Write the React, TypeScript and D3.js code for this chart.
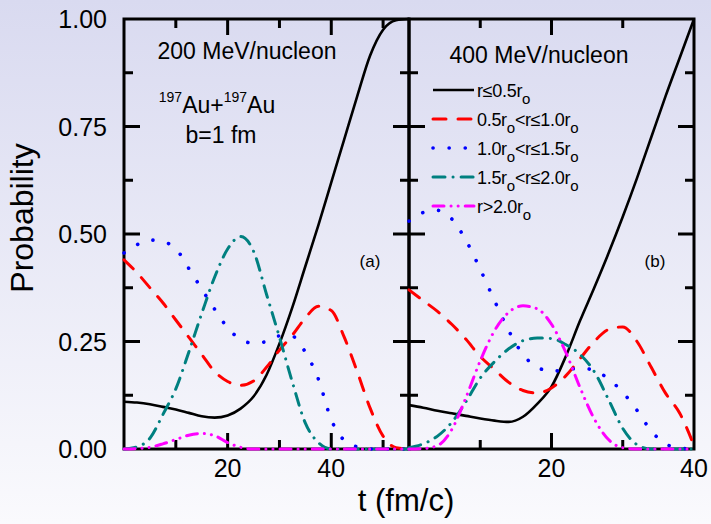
import React, { useRef, useEffect } from "react";
import * as d3 from "d3";

const width = 711;
const height = 524;

// panel (a): 200 MeV/nucleon
const time200 = [0, 2.5, 5, 7.5, 10, 12.5, 15, 17.5, 20, 22.5, 25, 27.5, 30, 32.5, 35, 37.5, 40, 42.5, 45, 47.5, 50, 52.5, 55];
const ring1_200 = [0.11, 0.108, 0.104, 0.098, 0.092, 0.084, 0.076, 0.073, 0.078, 0.094, 0.122, 0.172, 0.245, 0.33, 0.425, 0.52, 0.62, 0.72, 0.82, 0.915, 0.975, 0.997, 1.0];
const ring2_200 = [0.44, 0.41, 0.375, 0.34, 0.3, 0.26, 0.22, 0.18, 0.157, 0.148, 0.158, 0.19, 0.23, 0.265, 0.305, 0.332, 0.322, 0.26, 0.18, 0.095, 0.03, 0.003, 0];
const ring3_200 = [0.456, 0.475, 0.486, 0.482, 0.466, 0.42, 0.372, 0.325, 0.282, 0.255, 0.246, 0.25, 0.263, 0.262, 0.225, 0.163, 0.068, 0.02, 0.005, 0, 0, 0, 0];
const ring4_200 = [0, 0.005, 0.025, 0.08, 0.14, 0.225, 0.315, 0.4, 0.465, 0.494, 0.46, 0.36, 0.26, 0.155, 0.06, 0.015, 0, 0, 0, 0, 0, 0, 0];
const ring5_200 = [0, 0.001, 0.004, 0.012, 0.022, 0.032, 0.036, 0.031, 0.015, 0.004, 0, 0, 0, 0, 0, 0, 0, 0, 0, 0, 0, 0, 0];

// panel (b): 400 MeV/nucleon
const time400 = [0, 2, 4, 6, 8, 10, 12, 14, 16, 18, 20, 22, 24, 26, 28, 30, 32, 34, 36, 38, 40];
const ring1_400 = [0.102, 0.096, 0.089, 0.083, 0.077, 0.071, 0.066, 0.063, 0.075, 0.105, 0.145, 0.215, 0.298, 0.375, 0.455, 0.54, 0.63, 0.725, 0.82, 0.91, 1.0];
const ring2_400 = [0.37, 0.345, 0.32, 0.29, 0.255, 0.215, 0.185, 0.155, 0.136, 0.13, 0.142, 0.17, 0.21, 0.25, 0.278, 0.284, 0.25, 0.19, 0.13, 0.083, 0.008];
const ring3_400 = [0.53, 0.55, 0.555, 0.535, 0.485, 0.418, 0.345, 0.275, 0.22, 0.19, 0.181, 0.184, 0.188, 0.183, 0.163, 0.132, 0.09, 0.042, 0.012, 0.002, 0];
const ring4_400 = [0.003, 0.012, 0.03, 0.062, 0.11, 0.165, 0.203, 0.233, 0.252, 0.258, 0.257, 0.243, 0.22, 0.18, 0.115, 0.048, 0.01, 0, 0, 0, 0];
const ring5_400 = [0, 0.001, 0.008, 0.045, 0.12, 0.205, 0.275, 0.318, 0.333, 0.326, 0.29, 0.225, 0.143, 0.07, 0.022, 0.003, 0, 0, 0, 0, 0];

const yTicks = [0, 0.25, 0.5, 0.75, 1.0];
const yMinor = [0.125, 0.375, 0.625, 0.875];

// legend labels: [text, subscript, text, subscript ...]
const legendLabels = [
  ["r≤0.5r", "o"],
  ["0.5r", "o", "<r≤1.0r", "o"],
  ["1.0r", "o", "<r≤1.5r", "o"],
  ["1.5r", "o", "<r≤2.0r", "o"],
  ["r>2.0r", "o"],
];

const styles = [
  { color: "#000000", dash: null, w: 2.6 },
  { color: "#ff0000", dash: "13 12", w: 3 },
  { color: "#0000ff", dash: "0.1 16", w: 3.6 },
  { color: "#008080", dash: "12 8 0.1 8", w: 3 },
  { color: "#ff00ff", dash: "11 7 0.1 7 0.1 7", w: 3 },
];

const font = "'Liberation Sans', Arial, sans-serif";

const App = () => {
  const ref = useRef(null);

  useEffect(() => {
    const el = ref.current;
    d3.select(el).select("svg").remove();
    const svg = d3
      .select(el)
      .append("svg")
      .attr("width", width)
      .attr("height", height)
      .style("position", "absolute")
      .style("left", 0)
      .style("top", 0)
      .style("font-family", font);

    const grad = svg
      .append("defs")
      .append("linearGradient")
      .attr("id", "bg")
      .attr("x1", 0)
      .attr("y1", 0)
      .attr("x2", 0)
      .attr("y2", 1);
    grad.append("stop").attr("offset", "0%").attr("stop-color", "#d9daf0");
    grad.append("stop").attr("offset", "100%").attr("stop-color", "#fafafd");
    svg.append("rect").attr("width", width).attr("height", height).attr("fill", "url(#bg)");

    const y = d3.scaleLinear().domain([0, 1]).range([449, 19]);
    const panels = [
      {
        x: d3.scaleLinear().domain([0, 55]).range([124, 409]),
        t: time200,
        series: [ring1_200, ring2_200, ring3_200, ring4_200, ring5_200],
        major: [20, 40],
        minor: [10, 30, 50],
      },
      {
        x: d3.scaleLinear().domain([0, 40]).range([409, 694]),
        t: time400,
        series: [ring1_400, ring2_400, ring3_400, ring4_400, ring5_400],
        major: [20],
        minor: [10, 30],
      },
    ];

    const axes = svg.append("g").attr("stroke", "#000").attr("stroke-width", 3);
    panels.forEach((p) => {
      const [x0, x1] = p.x.range();
      axes.append("rect").attr("x", x0).attr("y", y(1)).attr("width", x1 - x0).attr("height", y(0) - y(1)).attr("fill", "none");
      p.major.forEach((v) => {
        axes.append("line").attr("x1", p.x(v)).attr("x2", p.x(v)).attr("y1", y(0)).attr("y2", y(0) - 16);
        axes.append("line").attr("x1", p.x(v)).attr("x2", p.x(v)).attr("y1", y(1)).attr("y2", y(1) + 16);
      });
      p.minor.forEach((v) => {
        axes.append("line").attr("x1", p.x(v)).attr("x2", p.x(v)).attr("y1", y(0)).attr("y2", y(0) - 9);
        axes.append("line").attr("x1", p.x(v)).attr("x2", p.x(v)).attr("y1", y(1)).attr("y2", y(1) + 9);
      });
      yTicks.slice(1, -1).forEach((v) => {
        axes.append("line").attr("x1", x0).attr("x2", x0 + 16).attr("y1", y(v)).attr("y2", y(v));
        axes.append("line").attr("x1", x1).attr("x2", x1 - 16).attr("y1", y(v)).attr("y2", y(v));
      });
      yMinor.forEach((v) => {
        axes.append("line").attr("x1", x0).attr("x2", x0 + 9).attr("y1", y(v)).attr("y2", y(v));
        axes.append("line").attr("x1", x1).attr("x2", x1 - 9).attr("y1", y(v)).attr("y2", y(v));
      });

      // x tick labels
      [20, 40].forEach((v) => {
        svg.append("text").attr("x", p.x(v)).attr("y", 477).attr("text-anchor", "middle").style("font-size", "25px").text(v);
      });
    });

    // y tick labels
    yTicks.forEach((v) => {
      svg
        .append("text")
        .attr("x", 107)
        .attr("y", y(v))
        .attr("dy", "0.36em")
        .attr("text-anchor", "end")
        .style("font-size", "25px")
        .text(d3.format(".2f")(v));
    });

    // curves
    panels.forEach((p) => {
      p.series.forEach((vals, i) => {
        const line = d3
          .line()
          .x((d, j) => p.x(p.t[j]))
          .y((d) => y(d))
          .curve(d3.curveMonotoneX);
        const s = styles[i];
        svg
          .append("path")
          .attr("d", line(vals))
          .attr("fill", "none")
          .attr("stroke", s.color)
          .attr("stroke-width", s.w)
          .attr("stroke-linecap", s.dash ? "round" : "butt")
          .attr("stroke-dasharray", s.dash);
      });
    });

    // axis titles
    svg
      .append("text")
      .attr("transform", "translate(33,218) rotate(-90)")
      .attr("text-anchor", "middle")
      .style("font-size", "32px")
      .text("Probability");
    svg.append("text").attr("x", 406).attr("y", 511).attr("text-anchor", "middle").style("font-size", "31px").text("t (fm/c)");

    // annotations
    svg.append("text").attr("x", 247).attr("y", 59).attr("text-anchor", "middle").style("font-size", "23px").text("200 MeV/nucleon");
    svg.append("text").attr("x", 539).attr("y", 63).attr("text-anchor", "middle").style("font-size", "23px").text("400 MeV/nucleon");
    const au = svg.append("text").attr("x", 217).attr("y", 113).attr("text-anchor", "middle").style("font-size", "23px");
    au.append("tspan").attr("dy", -11).style("font-size", "14px").text("197");
    au.append("tspan").attr("dy", 11).text("Au+");
    au.append("tspan").attr("dy", -11).style("font-size", "14px").text("197");
    au.append("tspan").attr("dy", 11).text("Au");
    svg.append("text").attr("x", 221).attr("y", 143).attr("text-anchor", "middle").style("font-size", "23px").text("b=1 fm");
    svg.append("text").attr("x", 370).attr("y", 267).attr("text-anchor", "middle").style("font-size", "17px").text("(a)");
    svg.append("text").attr("x", 655).attr("y", 267).attr("text-anchor", "middle").style("font-size", "17px").text("(b)");

    // legend
    legendLabels.forEach((parts, i) => {
      const ly = 90 + i * 29;
      const s = styles[i];
      svg
        .append("line")
        .attr("x1", 433)
        .attr("x2", 474)
        .attr("y1", ly)
        .attr("y2", ly)
        .attr("stroke", s.color)
        .attr("stroke-width", s.w)
        .attr("stroke-linecap", s.dash ? "round" : "butt")
        .attr("stroke-dasharray", s.dash);
      const txt = svg
        .append("text")
        .attr("x", 477)
        .attr("y", ly + 7)
        .style("font-size", "18px")
        .style("letter-spacing", "-0.3px");
      parts.forEach((part, k) => {
        const sub = k % 2 === 1;
        txt
          .append("tspan")
          .attr("dy", k === 0 ? 0 : sub ? 7 : -7)
          .style("font-size", sub ? "15px" : "18px")
          .text(part);
      });
    });
  }, []);

  return <div ref={ref}></div>;
};

export default App;
